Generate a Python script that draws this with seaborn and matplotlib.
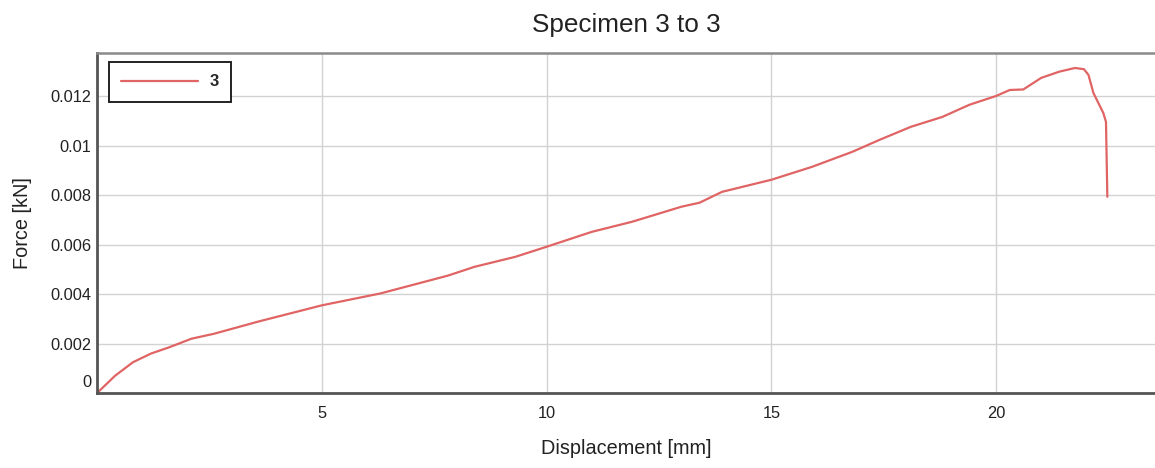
import matplotlib
matplotlib.use("Agg")
import matplotlib.pyplot as plt
import matplotlib.transforms as mtransforms
import seaborn as sns
import pandas as pd

# ---- data ----
displacement = [0.0, 0.2, 0.4, 0.8, 1.2, 1.6, 2.1, 2.6, 3.6, 5.0, 6.3, 7.8, 8.4, 9.3,
                10.0, 11.0, 11.9, 13.0, 13.4, 13.9, 15.0, 15.9, 16.8, 17.4, 18.1, 18.8,
                19.4, 20.0, 20.3, 20.6, 21.0, 21.4, 21.75, 21.95, 22.05, 22.16, 22.38,
                22.44, 22.47]
force = [0.0, 0.00035, 0.0007, 0.00125, 0.0016, 0.00185, 0.0022, 0.0024, 0.0029,
         0.00355, 0.00403, 0.00475, 0.00511, 0.00551, 0.00592, 0.00652, 0.00693,
         0.00754, 0.0077, 0.00814, 0.00863, 0.00915, 0.00976, 0.01024, 0.01077,
         0.01117, 0.01166, 0.01202, 0.01226, 0.01228, 0.01275, 0.0130, 0.01315,
         0.0131, 0.01287, 0.01214, 0.01133, 0.01097, 0.00794]
specimen = ["3"] * len(displacement)

xticks = [5, 10, 15, 20]
xtick_labels = ["5", "10", "15", "20"]
yticks = [0, 0.002, 0.004, 0.006, 0.008, 0.01, 0.012]
ytick_labels = ["0", "0.002", "0.004", "0.006", "0.008", "0.01", "0.012"]

df = pd.DataFrame({"Displacement": displacement, "Force": force, "Specimen": specimen})

sns.set_style("white")
plt.rcParams["font.family"] = ["Liberation Sans", "DejaVu Sans"]

fig = plt.figure(figsize=(11.55, 4.68), dpi=100)
ax = fig.add_axes([0.084, 0.16, 0.916, 0.727])

sns.lineplot(data=df, x="Displacement", y="Force", hue="Specimen",
             palette={"3": "#e06464"}, sort=False, estimator=None,
             linewidth=1.6, ax=ax)

ax.set_xlim(0, 23.53)
ax.set_ylim(0, 0.01376)
ax.set_xticks(xticks)
ax.set_xticklabels(xtick_labels)
ax.set_yticks(yticks)
ax.set_yticklabels(ytick_labels)
ax.tick_params(axis="both", length=0, labelsize=11.8, colors="#222222")
ax.tick_params(axis="x", pad=9)
ax.tick_params(axis="y", pad=4)

ax.grid(True, color="#d2d2d2", linewidth=1.0)
ax.set_axisbelow(True)

for side in ["left", "bottom"]:
    ax.spines[side].set_color("#555555")
    ax.spines[side].set_linewidth(2.0)
ax.spines["top"].set_color("#8a8a8a")
ax.spines["top"].set_linewidth(1.8)
ax.spines["right"].set_visible(False)

# shift the "0" label upward as in the reference
lbl0 = ax.get_yticklabels()[0]
lbl0.set_transform(lbl0.get_transform() +
                   mtransforms.ScaledTranslation(0, 12 / 100, fig.dpi_scale_trans))

ax.set_xlabel("Displacement [mm]", fontsize=14.3, color="#222222", labelpad=13)
ax.set_ylabel("Force [kN]", fontsize=14.3, color="#222222", labelpad=13)
ax.set_title("Specimen 3 to 3", fontsize=18.8, color="#222222", pad=15)

leg = ax.legend(loc="upper left", title=None, handlelength=4.6, fancybox=False,
                framealpha=1, edgecolor="#222222", borderpad=0.75, handletextpad=0.7,
                bbox_to_anchor=(0.003, 0.998), prop={"weight": "bold", "size": 12})
leg.get_frame().set_linewidth(1.4)

fig.savefig("out.png", dpi=100)
